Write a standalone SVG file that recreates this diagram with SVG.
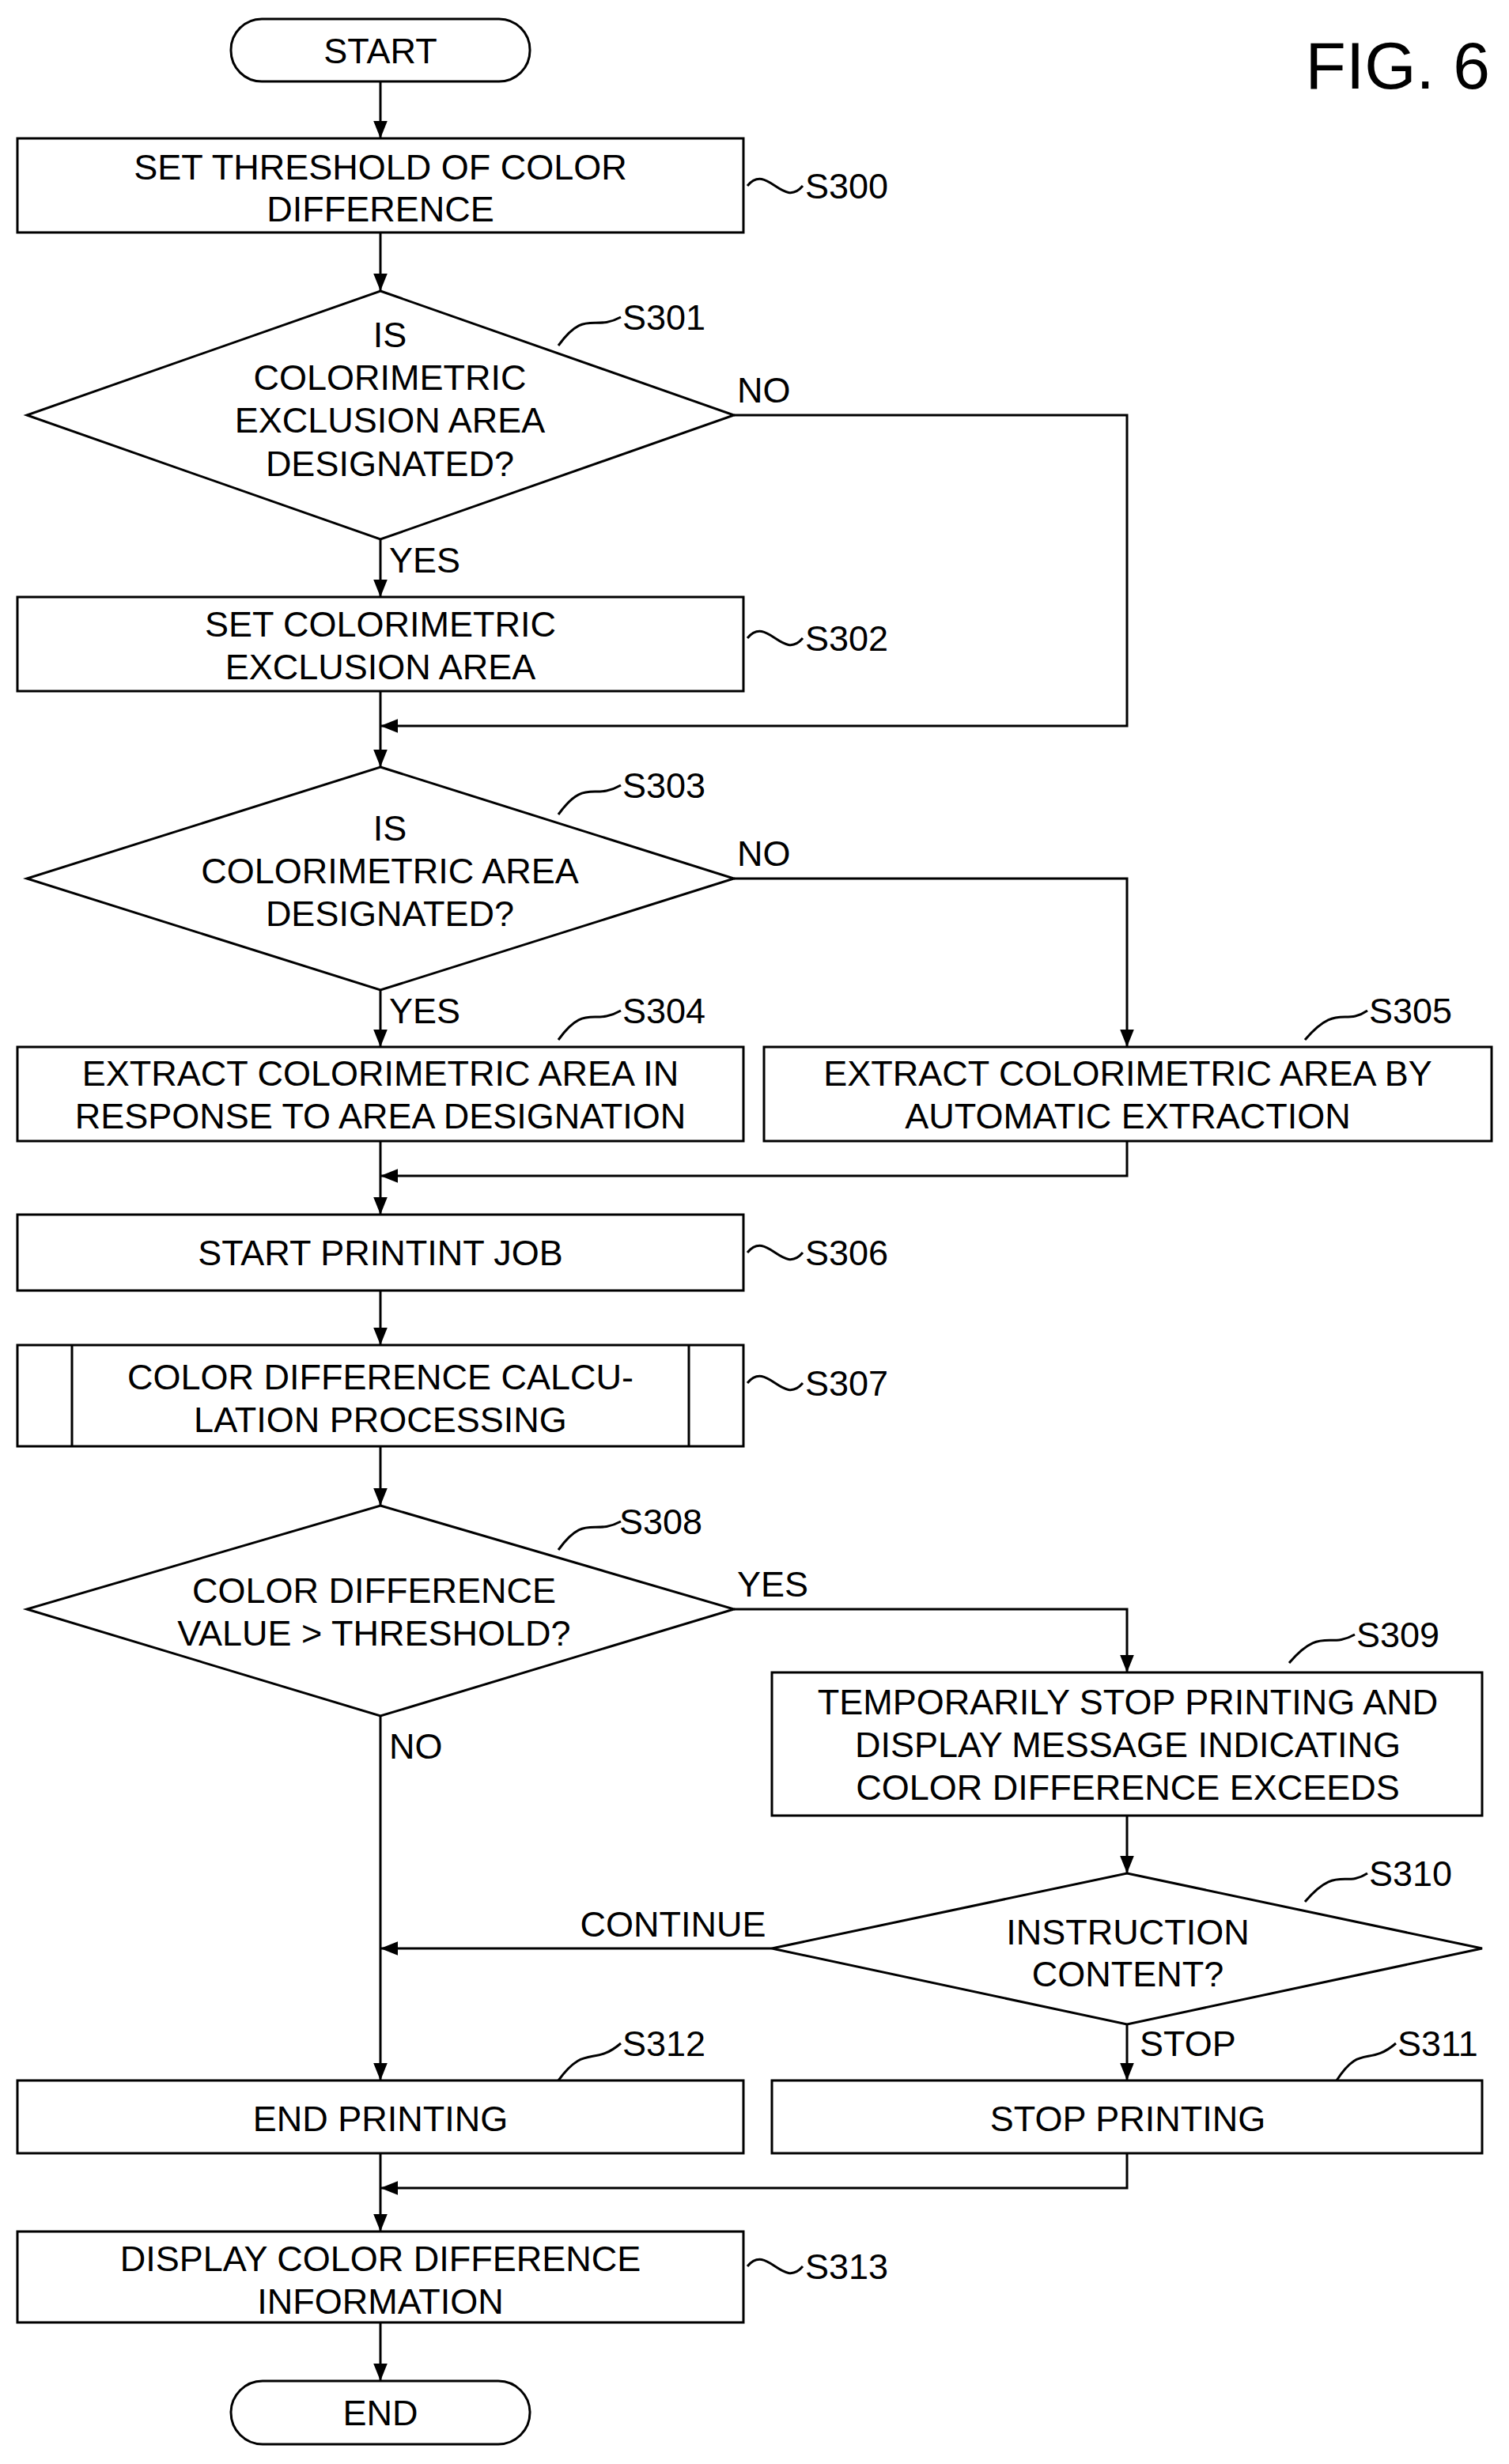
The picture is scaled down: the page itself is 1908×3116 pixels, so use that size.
<svg xmlns="http://www.w3.org/2000/svg" width="1908" height="3116" viewBox="0 0 1908 3116">
<style>
.s{fill:none;stroke:#000;stroke-width:3}
.b{fill:#fff;stroke:#000;stroke-width:3}
text{font-family:"Liberation Sans",Arial,sans-serif;font-size:45px;fill:#000;text-anchor:middle}
.l{text-anchor:start}
</style>
<defs><marker id="a" viewBox="0 0 10 10" refX="10" refY="5" markerWidth="8" markerHeight="8" markerUnits="userSpaceOnUse" orient="auto"><path d="M0,0L10,5L0,10z"/></marker>
<marker id="ar" viewBox="0 0 10 10" refX="10" refY="5" markerWidth="22" markerHeight="22" markerUnits="userSpaceOnUse" orient="auto"><path d="M0,1L10,5L0,9z"/></marker></defs>
<rect width="1908" height="3116" fill="#fff"/>
<text x="1884" y="112" style="font-size:84px;text-anchor:end">FIG. 6</text>
<g id="connectors" class="s">
<path d="M481,103V175" marker-end="url(#ar)"/>
<path d="M481,294V368" marker-end="url(#ar)"/>
<path d="M481,682V755" marker-end="url(#ar)"/>
<path d="M928,525H1425V918H481" marker-end="url(#ar)"/>
<path d="M481,874V970" marker-end="url(#ar)"/>
<path d="M928,1111H1425V1324" marker-end="url(#ar)"/>
<path d="M481,1252V1324" marker-end="url(#ar)"/>
<path d="M1425,1443V1487H481" marker-end="url(#ar)"/>
<path d="M481,1443V1536" marker-end="url(#ar)"/>
<path d="M481,1632V1701" marker-end="url(#ar)"/>
<path d="M481,1829V1904" marker-end="url(#ar)"/>
<path d="M928,2035H1425V2115" marker-end="url(#ar)"/>
<path d="M1425,2296V2369" marker-end="url(#ar)"/>
<path d="M976,2464H481" marker-end="url(#ar)"/>
<path d="M481,2170V2631" marker-end="url(#ar)"/>
<path d="M1425,2560V2631" marker-end="url(#ar)"/>
<path d="M1425,2723V2767H481" marker-end="url(#ar)"/>
<path d="M481,2723V2822" marker-end="url(#ar)"/>
<path d="M481,2937V3011" marker-end="url(#ar)"/>
<path d="M945,235C970,205 990,265 1015,235"/>
<path d="M945,807C970,777 990,837 1015,807"/>
<path d="M945,1584C970,1554 990,1614 1015,1584"/>
<path d="M945,1749C970,1719 990,1779 1015,1749"/>
<path d="M945,2866C970,2836 990,2896 1015,2866"/>
<path d="M706,437C740,390 750,420 785,401"/>
<path d="M706,1030C740,983 750,1013 785,993"/>
<path d="M706,1315C740,1268 750,1298 785,1278"/>
<path d="M1650,1315C1690,1268 1700,1298 1729,1278"/>
<path d="M706,1960C740,1913 750,1943 785,1924"/>
<path d="M1630,2103C1670,2056 1680,2086 1713,2067"/>
<path d="M1650,2405C1690,2358 1700,2388 1729,2369"/>
<path d="M706,2631C740,2584 750,2614 785,2584"/>
<path d="M1690,2631C1720,2584 1730,2614 1765,2584"/>
</g>
<g id="start"><rect class="b" x="292" y="24" width="378" height="79" rx="39"/><text x="481" y="80">START</text></g>
<g id="S300"><rect class="b" x="22" y="175" width="918" height="119"/><text x="481" y="227">SET THRESHOLD OF COLOR</text><text x="481" y="280">DIFFERENCE</text><text class="l" x="1018" y="251">S300</text></g>
<g id="S301"><path class="b" d="M481,368L928,525L481,682L34,525z"/><text x="493" y="439">IS</text><text x="493" y="493">COLORIMETRIC</text><text x="493" y="547">EXCLUSION AREA</text><text x="493" y="602">DESIGNATED?</text><text class="l" x="787" y="417">S301</text><text class="l" x="932" y="509">NO</text><text class="l" x="492" y="724">YES</text></g>
<g id="S302"><rect class="b" x="22" y="755" width="918" height="119"/><text x="481" y="805">SET COLORIMETRIC</text><text x="481" y="859">EXCLUSION AREA</text><text class="l" x="1018" y="823">S302</text></g>
<g id="S303"><path class="b" d="M481,970L928,1111L481,1252L34,1111z"/><text x="493" y="1063">IS</text><text x="493" y="1117">COLORIMETRIC AREA</text><text x="493" y="1171">DESIGNATED?</text><text class="l" x="787" y="1009">S303</text><text class="l" x="932" y="1095">NO</text><text class="l" x="492" y="1294">YES</text></g>
<g id="S304"><rect class="b" x="22" y="1324" width="918" height="119"/><text x="481" y="1373">EXTRACT COLORIMETRIC AREA IN</text><text x="481" y="1427">RESPONSE TO AREA DESIGNATION</text><text class="l" x="787" y="1294">S304</text></g>
<g id="S305"><rect class="b" x="966" y="1324" width="920" height="119"/><text x="1426" y="1373">EXTRACT COLORIMETRIC AREA BY</text><text x="1426" y="1427">AUTOMATIC EXTRACTION</text><text class="l" x="1731" y="1294">S305</text></g>
<g id="S306"><rect class="b" x="22" y="1536" width="918" height="96"/><text x="481" y="1600">START PRINTINT JOB</text><text class="l" x="1018" y="1600">S306</text></g>
<g id="S307"><rect class="b" x="22" y="1701" width="918" height="128"/><path class="s" d="M91,1701V1829M871,1701V1829"/><text x="481" y="1757">COLOR DIFFERENCE CALCU-</text><text x="481" y="1811">LATION PROCESSING</text><text class="l" x="1018" y="1765">S307</text></g>
<g id="S308"><path class="b" d="M481,1904L928,2035L481,2170L34,2035z"/><text x="473" y="2027">COLOR DIFFERENCE</text><text x="473" y="2081">VALUE &gt; THRESHOLD?</text><text class="l" x="783" y="1940">S308</text><text class="l" x="932" y="2019">YES</text><text class="l" x="492" y="2224">NO</text></g>
<g id="S309"><rect class="b" x="976" y="2115" width="898" height="181"/><text x="1426" y="2168">TEMPORARILY STOP PRINTING AND</text><text x="1426" y="2222">DISPLAY MESSAGE INDICATING</text><text x="1426" y="2276">COLOR DIFFERENCE EXCEEDS</text><text class="l" x="1715" y="2083">S309</text></g>
<g id="S310"><path class="b" d="M1425,2369L1874,2464L1425,2560L976,2464z"/><text x="1426" y="2459">INSTRUCTION</text><text x="1426" y="2512">CONTENT?</text><text class="l" x="1731" y="2385">S310</text><text x="851" y="2449">CONTINUE</text><text class="l" x="1441" y="2600">STOP</text></g>
<g id="S312"><rect class="b" x="22" y="2631" width="918" height="92"/><text x="481" y="2695">END PRINTING</text><text class="l" x="787" y="2600">S312</text></g>
<g id="S311"><rect class="b" x="976" y="2631" width="898" height="92"/><text x="1426" y="2695">STOP PRINTING</text><text class="l" x="1767" y="2600">S311</text></g>
<g id="S313"><rect class="b" x="22" y="2822" width="918" height="115"/><text x="481" y="2872">DISPLAY COLOR DIFFERENCE</text><text x="481" y="2926">INFORMATION</text><text class="l" x="1018" y="2882">S313</text></g>
<g id="end"><rect class="b" x="292" y="3011" width="378" height="80" rx="40"/><text x="481" y="3067">END</text></g>
</svg>
